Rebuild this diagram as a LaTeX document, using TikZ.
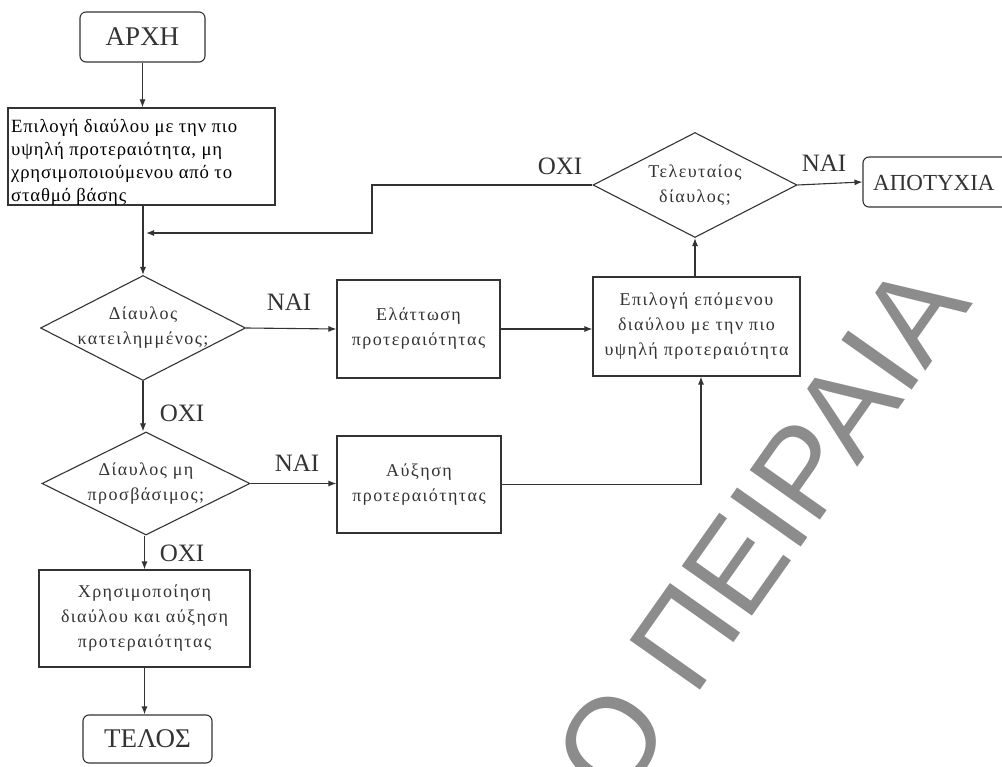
\documentclass[tikz,border=0pt]{standalone}
\usepackage{fontspec}
\setmainfont{Liberation Serif}
\newfontfamily\wmfont{Liberation Sans}
\newfontfamily\spacedfont[LetterSpace=8]{Liberation Serif}
\newfontfamily\firstfont[LetterSpace=4.3]{Liberation Serif}
\usetikzlibrary{shapes.geometric,arrows.meta,calc}
\definecolor{ink}{HTML}{333333}
\definecolor{wmgray}{HTML}{8C8C8C}
\tikzset{
  box/.style={draw=ink, line width=1.1pt, inner sep=0pt, rectangle},
  rbox/.style={box, rounded corners=6pt},
  dia/.style={draw=ink, line width=1.1pt, diamond, inner sep=0pt},
  arr/.style={draw=ink, line width=1.1pt, -{Latex[length=8pt,width=6pt]}},
  lbl/.style={text=ink, inner sep=0pt, font=\fontsize{25}{27}\selectfont},
  big/.style={text=ink, inner sep=0pt, font=\fontsize{27}{29}\selectfont},
  small/.style={text=ink, inner sep=0pt, align=center, font=\spacedfont\fontsize{18}{25}\selectfont},
  first/.style={text=black, inner sep=0pt, align=left, font=\firstfont\fontsize{18.7}{23}\selectfont},
}
\begin{document}
\begin{tikzpicture}[x=1pt,y=-1pt]
\useasboundingbox (0,0) rectangle (1002,767);
\clip (0,0) rectangle (1002,767);
\fill[white] (0,0) rectangle (1002,767);
% watermark
\node[text=wmgray, rotate=54.8, anchor=base east, inner sep=0pt,
      font=\wmfont\fontsize{125}{130}\selectfont] (wm) at (974,303) {Ο ΠΕΙΡΑΙΑ};
% nodes
\node[rbox, minimum width=125pt, minimum height=50pt] (arxi) at (142.5,37) {};
\node[big] (arxit) at (arxi.center) {ΑΡΧΗ};
\node[box, minimum width=267pt, minimum height=97pt] (b1) at (141.5,156.5) {};
\node[first, anchor=north west] (b1t) at (11,119) {Επιλογή διαύλου με την πιο\\υψηλή προτεραιότητα, μη\\χρησιμοποιούμενου από το\\σταθμό βάσης};
\node[dia, minimum width=205pt, minimum height=105pt] (d1) at (143,328) {};
\node[small] (d1t) at (d1.center) {Δίαυλος\\κατειλημμένος;};
\node[dia, minimum width=208pt, minimum height=103pt] (d2) at (146,483.5) {};
\node[small] (d2t) at (d2.center) {Δίαυλος μη\\προσβάσιμος;};
\node[box, minimum width=211pt, minimum height=97pt] (xr) at (144.5,618.5) {};
\node[small] (xrt) at (xr.center) {Χρησιμοποίηση\\διαύλου και αύξηση\\προτεραιότητας};
\node[rbox, minimum width=129pt, minimum height=48pt] (telos) at (147.5,739) {};
\node[big] (telost) at (telos.center) {ΤΕΛΟΣ};
\node[box, minimum width=163pt, minimum height=98pt] (ela) at (418.5,329) {};
\node[small] (elat) at (ela.center) {Ελάττωση\\προτεραιότητας};
\node[box, minimum width=164pt, minimum height=97pt] (afx) at (419,484.5) {};
\node[small] (afxt) at (afx.center) {Αύξηση\\προτεραιότητας};
\node[box, minimum width=207pt, minimum height=99pt] (epi) at (696.5,326.5) {};
\node[small] (epit) at (epi.center) {Επιλογή επόμενου\\διαύλου με την πιο\\υψηλή προτεραιότητα};
\node[dia, minimum width=204pt, minimum height=105pt] (d3) at (695,185) {};
\node[small] (d3t) at (d3.center) {Τελευταίος\\δίαυλος;};
\node[rbox, minimum width=156pt, minimum height=50pt] (apo) at (941,182) {};
\node[text=ink, inner sep=0pt, font=\fontsize{23}{25}\selectfont, anchor=west] (apot) at (873,183) {ΑΠΟΤΥΧΙΑ};
% labels
\node[lbl] (l1) at (289,302) {ΝΑΙ};
\node[lbl] (l2) at (182,413) {ΟΧΙ};
\node[lbl] (l3) at (297,463) {ΝΑΙ};
\node[lbl] (l4) at (182,553) {ΟΧΙ};
\node[lbl] (l5) at (560,166) {ΟΧΙ};
\node[lbl] (l6) at (824,163) {ΝΑΙ};
% connectors
\coordinate (k1) at (372,185);
\coordinate (k2) at (146,233);
\coordinate (k3) at (701,484.5);
\draw[arr] (arxi.south) -- (arxi.south |- b1.north);
\draw[arr] (b1.south -| d1.north) -- (d1.north);
\draw[arr] (d3.west) -- (k1) |- (k2);
\draw[arr] (d3.east) -- (apo.west);
\draw[arr] (d1.east) -- (ela.west);
\draw[arr] (d1.south) -- (d1.south |- d2.north);
\draw[arr] (d2.east) -- (d2.east -| afx.west);
\draw[arr] (d2.south -| xr.north) -- (xr.north);
\draw[arr] (xr.south) -- (xr.south |- telos.north);
\draw[arr] (ela.east) -- (ela.east -| epi.west);
\draw[arr] (afx.east) -- (k3) -- (k3 |- epi.south);
\draw[arr] (epi.north -| d3.south) -- (d3.south);
\end{tikzpicture}
\end{document}
